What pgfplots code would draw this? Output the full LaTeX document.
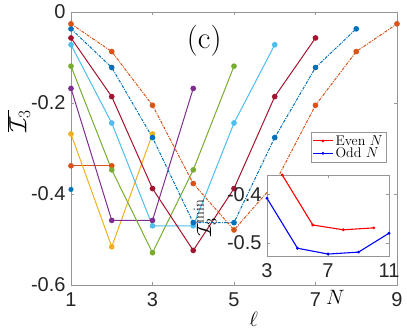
\documentclass[border=0pt]{standalone}
\usepackage{fontspec}
\usepackage{pgfplots}
\pgfplotsset{compat=1.18}
\newfontfamily\helv{Liberation Sans}

\definecolor{mblue}{RGB}{0,114,189}
\definecolor{morange}{RGB}{217,83,25}
\definecolor{myellow}{RGB}{237,177,32}
\definecolor{mpurple}{RGB}{126,47,142}
\definecolor{mgreen}{RGB}{119,172,48}
\definecolor{mcyan}{RGB}{77,190,238}
\definecolor{mred}{RGB}{162,20,47}
\definecolor{axgray}{RGB}{150,150,150}
\definecolor{tickgray}{RGB}{38,38,38}

\pgfplotsset{
  mstyle/.style={line width=1pt, mark=*, mark size=2.3pt},
  ddash/.style={dash pattern=on 3pt off 1.2pt on 1pt off 1.2pt},
  ticklab/.style={font=\helv\fontsize{20}{20}\selectfont, text=tickgray},
}

\begin{document}
\begin{tikzpicture}
\path[use as bounding box] (0,0) rectangle (407pt,332pt);

% main axis
\begin{axis}[
  at={(71pt,47pt)}, anchor=south west,
  scale only axis, width=326pt, height=273pt,
  xmin=1, xmax=9, ymin=-0.6, ymax=0,
  xtick={1,3,5,7,9}, xticklabels={1,3,5,7,9},
  ytick={-0.6,-0.4,-0.2,0}, yticklabels={-0.6,-0.4,-0.2,0},
  tick align=inside, major tick length=3pt,
  axis line style={axgray}, tick style={axgray},
  ticklabel style={ticklab},
  xticklabel style={yshift=-4pt},
  yticklabel style={xshift=-2pt},
  clip=false,
  xlabel={$\ell$},
  xlabel style={at={(axis description cs:0.56,-0.1)}, anchor=north, inner sep=0pt, font=\fontsize{22}{22}\selectfont},
]
\addplot[only marks, mark=*, mark size=2.3pt, color=mblue] coordinates {(1,-0.39)};
\addplot[mstyle, color=morange] coordinates {(1,-0.338) (2,-0.338)};
\addplot[mstyle, color=myellow] coordinates {(1,-0.268) (2,-0.516) (3,-0.268)};
\addplot[mstyle, color=mpurple] coordinates {(1,-0.168) (2,-0.458) (3,-0.458) (4,-0.168)};
\addplot[mstyle, color=mgreen] coordinates {(1,-0.119) (2,-0.347) (3,-0.529) (4,-0.347) (5,-0.119)};
\addplot[mstyle, color=mcyan] coordinates {(1,-0.072) (2,-0.244) (3,-0.470) (4,-0.470) (5,-0.244) (6,-0.072)};
\addplot[mstyle, color=mred] coordinates {(1,-0.057) (2,-0.186) (3,-0.388) (4,-0.524) (5,-0.388) (6,-0.186) (7,-0.057)};
\addplot[mstyle, ddash, color=mblue, mark options={solid}] coordinates {(1,-0.037) (2,-0.122) (3,-0.276) (4,-0.463) (5,-0.463) (6,-0.276) (7,-0.122) (8,-0.037)};
\addplot[mstyle, ddash, color=morange, mark options={solid}] coordinates {(1,-0.026) (2,-0.087) (3,-0.205) (4,-0.377) (5,-0.479) (6,-0.377) (7,-0.205) (8,-0.087) (9,-0.026)};
\node at (axis cs:4.27,-0.064) {\fontsize{31}{31}\selectfont (c)};
\node[rotate=90, inner sep=0pt] at (rel axis cs:-0.16,0.6) {\fontsize{27}{27}\selectfont $\overline{\mathcal{I}_3}$};
\end{axis}

% inset
\begin{axis}[
  at={(267pt,76pt)}, anchor=south west,
  scale only axis, width=122pt, height=81pt,
  xmin=3, xmax=11, ymin=-0.527, ymax=-0.36,
  axis background/.style={fill=white},
  xtick={3,7,11}, xticklabels={3,7,11},
  ytick={-0.5,-0.4}, yticklabels={-0.5,-0.4},
  tick align=inside, major tick length=3pt,
  axis line style={axgray}, tick style={axgray},
  ticklabel style={ticklab},
  xticklabel style={yshift=-4pt},
  yticklabel style={xshift=-2pt},
  xlabel={$N$},
  xlabel style={at={(axis description cs:0.56,-0.42)}, anchor=north, inner sep=0pt, font=\fontsize{21}{21}\selectfont},
  legend style={at={(rel axis cs:0.975,1.53)}, anchor=north east, draw=axgray,
    font=\fontsize{14}{15}\selectfont, inner sep=1pt, row sep=-3pt},
  legend cell align=left,
  legend image code/.code={\draw[#1, mark repeat=2, mark phase=2] plot coordinates {(0pt,0pt) (10pt,0pt) (20pt,0pt)};},
]
\addplot[red, line width=1.1pt, mark=*, mark size=0.8pt] coordinates {(4,-0.36) (6,-0.463) (8,-0.473) (10,-0.469)};
\addlegendentry{Even $N$}
\addplot[blue, line width=1.1pt, mark=*, mark size=0.8pt] coordinates {(3,-0.408) (5,-0.511) (7,-0.523) (9,-0.519) (11,-0.48)};
\addlegendentry{Odd $N$}
\end{axis}
\node[rotate=90, inner sep=0pt] at (205pt,114pt) {\fontsize{22}{22}\selectfont $\mathcal{I}_3^{\min}$};
\end{tikzpicture}
\end{document}
